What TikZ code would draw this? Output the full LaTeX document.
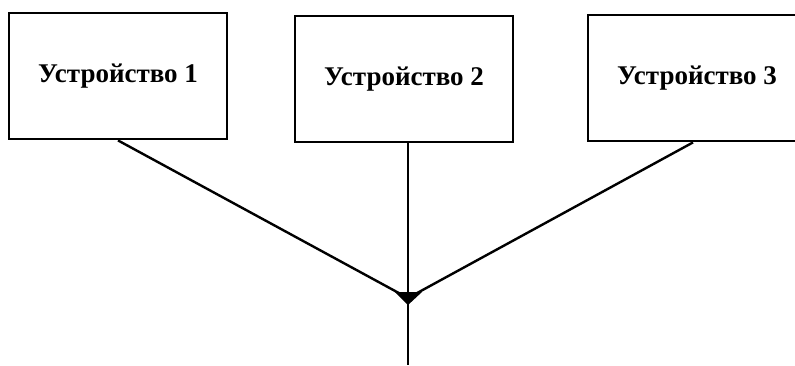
\documentclass[tikz,border=0pt]{standalone}
\usepackage{fontspec}
\setmainfont{Liberation Serif}
\begin{document}
\begin{tikzpicture}[x=1pt,y=-1pt,
  devbox/.style={draw=black,line width=2.8pt,minimum width=218pt,minimum height=126pt,inner sep=0pt,font=\fontsize{27}{30}\selectfont\bfseries},
  wire/.style={draw=black,line width=2.4pt}]
\useasboundingbox (0,0) rectangle (795,365);
\node[devbox] (d1) at (118,76) {Устройство 1};
\node[devbox] (d2) at (404,79) {Устройство 2};
\node[devbox] (d3) at (697,78) {Устройство 3};
\coordinate (j) at (408,298);
\coordinate (e) at (408,365);
\fill (395,292) -- (422,292) -- (408,305) -- cycle;
\draw[wire] (d1.south) -- (j);
\draw[wire] ([xshift=-4pt]d3.south) -- (j);
\draw[wire] (d2.south -| j) -- (e);
\end{tikzpicture}
\end{document}
